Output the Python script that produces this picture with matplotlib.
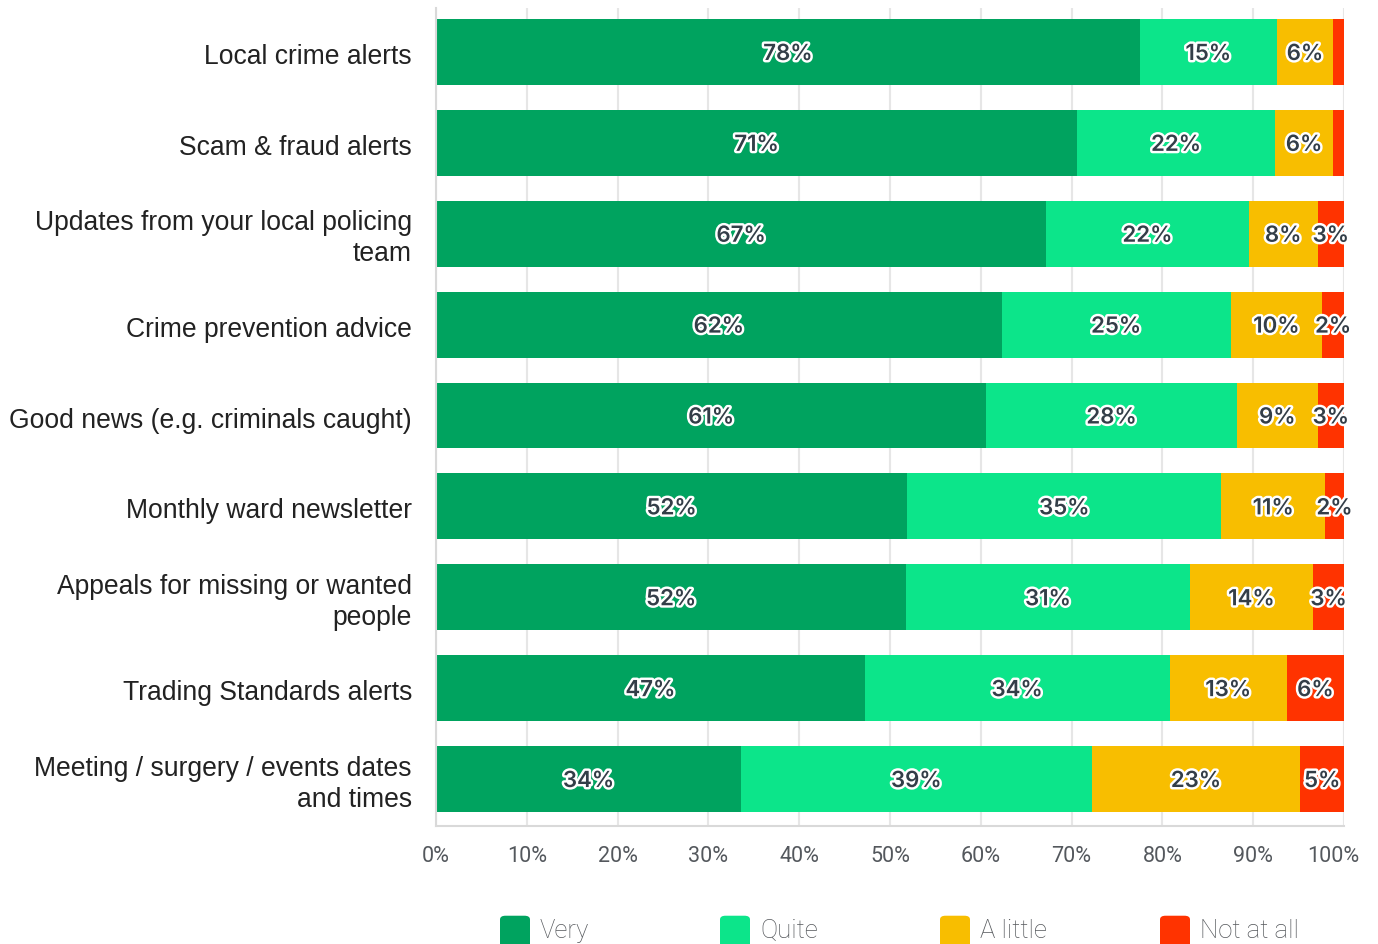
import matplotlib
matplotlib.use("Agg")
import matplotlib.pyplot as plt
import matplotlib.patheffects as pe
import matplotlib.transforms as mtransforms
from matplotlib.patches import FancyBboxPatch
import numpy as np

categories = [
    "Local crime alerts",
    "Scam & fraud alerts",
    "Updates from your local policing\nteam",
    "Crime prevention advice",
    "Good news (e.g. criminals caught)",
    "Monthly ward newsletter",
    "Appeals for missing or wanted\npeople",
    "Trading Standards alerts",
    "Meeting / surgery / events dates\nand times",
]
very = [77.5, 70.6, 67.2, 62.3, 60.6, 51.9, 51.8, 47.2, 33.6]
quite = [15.1, 21.8, 22.3, 25.2, 27.6, 34.6, 31.2, 33.6, 38.6]
a_little = [6.2, 6.4, 7.6, 10.1, 8.9, 11.4, 13.6, 12.9, 23.0]
not_at_all = [1.2, 1.2, 2.9, 2.4, 2.9, 2.1, 3.4, 6.3, 4.8]
series_names = ["Very", "Quite", "A little", "Not at all"]
colors = ["#00A35F", "#0CE58A", "#F8BE00", "#FF3300"]
xticks = [0, 10, 20, 30, 40, 50, 60, 70, 80, 90, 100]

fig = plt.figure(figsize=(13.78, 9.44), dpi=100)
ax = fig.add_axes([436/1378, 1-826/944, (1344-436)/1378, 818/944])

y = np.arange(len(categories))
left = np.zeros(len(categories))
text_color = "#333E48"
down2 = mtransforms.ScaledTranslation(0, -2/100, fig.dpi_scale_trans)
for vals, col in zip([very, quite, a_little, not_at_all], colors):
    vals = np.array(vals)
    ax.barh(y, vals, left=left, height=0.726, color=col, zorder=2)
    for yi, (l, v) in enumerate(zip(left, vals)):
        if v >= 2:
            ax.text(l + v/2, yi, f"{round(v)}%", ha="center", va="center",
                    fontsize=16, fontweight="semibold", color=text_color,
                    family="Inter", zorder=4, transform=ax.transData + down2,
                    path_effects=[pe.withStroke(linewidth=3.5, foreground="white")])
    left = left + vals

ax.set_xlim(0, 100)
ax.set_ylim(8.517, -0.484)
ax.set_yticks([])
lab_tr = ax.get_yaxis_transform() + mtransforms.ScaledTranslation(-24/100, -5/100, fig.dpi_scale_trans)
for yi, cat in zip(y, categories):
    ax.text(0, yi, cat, ha="right", va="center", fontsize=19.1, color="#222222",
            family="Liberation Sans", linespacing=1.25, multialignment="right",
            transform=lab_tr)

# x tick labels
ax.set_xticks(xticks)
ax.set_xticklabels([])
ax.tick_params(axis="x", length=0)
xt_base = ax.get_xaxis_transform()
for i, t in enumerate(xticks):
    dx = -11/100 if i == len(xticks) - 1 else 0
    tr = xt_base + mtransforms.ScaledTranslation(dx, -31/100, fig.dpi_scale_trans)
    ax.text(t, 0, f"{t}%", ha="center", va="center", fontsize=15.5,
            color="#54585d", family="Roboto", transform=tr, clip_on=False)

ax.grid(axis="x", color="#e6e6e6", linewidth=1.5, zorder=0)
for s in ["top", "right"]:
    ax.spines[s].set_visible(False)
ax.spines["left"].set_color("#d9d9d9")
ax.spines["bottom"].set_color("#d9d9d9")
ax.spines["left"].set_linewidth(1.5)
ax.spines["bottom"].set_linewidth(1.5)
ax.set_axisbelow(True)

# legend
lx = [500, 720, 940, 1160]
for x0, name, col in zip(lx, series_names, colors):
    p = FancyBboxPatch((x0/1378, 1-944/944 - 0.005), 30/1378, 33/944,
                       boxstyle="round,pad=0,rounding_size=0.004",
                       transform=fig.transFigure, facecolor=col, edgecolor="none")
    fig.patches.append(p)
    fig.text((x0+40)/1378, 1-931/944, name, fontsize=18.5, color="#55585c",
             family="Roboto", fontweight="light", va="center", ha="left")

fig.savefig("out.png", dpi=100)
